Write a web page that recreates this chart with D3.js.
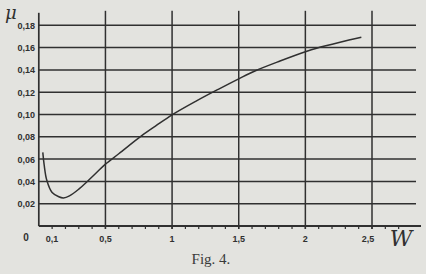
<!DOCTYPE html>
<html>
<head>
<meta charset="utf-8">
<script src="https://cdn.jsdelivr.net/npm/d3@7"></script>
<style>
  body { margin: 0; background: #e3e3df; }
  svg { display: block; }
</style>
</head>
<body>
<script>
// curve (mu against W)
var wValues  = [0.03, 0.04, 0.06, 0.10, 0.15, 0.185, 0.23, 0.30, 0.36, 0.43, 0.50, 0.60, 0.77, 0.88, 1.00, 1.18, 1.35, 1.50, 1.63, 1.81, 2.00, 2.085, 2.26, 2.42];
var muValues = [0.066, 0.055, 0.041, 0.030, 0.0262, 0.0252, 0.027, 0.033, 0.0395, 0.0475, 0.0555, 0.0648, 0.0808, 0.090, 0.0997, 0.112, 0.1228, 0.132, 0.1395, 0.148, 0.1563, 0.1595, 0.1648, 0.1692];

var yTicks = [0.02, 0.04, 0.06, 0.08, 0.10, 0.12, 0.14, 0.16, 0.18];
var yTickLabels = ["0,02", "0,04", "0,06", "0,08", "0,10", "0,12", "0,14", "0,16", "0,18"];
var xGrid = [0.5, 1, 1.5, 2, 2.5];
var xTickLabels = [[0.1, "0,1"], [0.5, "0,5"], [1, "1"], [1.5, "1,5"], [2, "2"], [2.5, "2,5"]];
var minorTicks = d3.range(1, 28).map(function(i) { return i / 10; });

var width = 426, height = 274;
var ink = "#303030";

var svg = d3.select("body").append("svg")
    .attr("width", width)
    .attr("height", height);

var x = d3.scaleLinear().domain([0, 2.5]).range([38.8, 372]);
var y = d3.scaleLinear().domain([0, 0.18]).range([226, 25.3]);

var xEnd = 419;      // right end of the ruled lines
var topY = y(0.193); // top end of the vertical lines

// horizontal rules
svg.selectAll(".hgrid")
    .data(yTicks)
  .enter().append("line")
    .attr("class", "hgrid")
    .attr("x1", x(0)).attr("x2", xEnd - 3)
    .attr("y1", function(d) { return y(d); })
    .attr("y2", function(d) { return y(d); })
    .attr("stroke", ink).attr("stroke-width", 1.5);

// vertical rules
svg.selectAll(".vgrid")
    .data(xGrid)
  .enter().append("line")
    .attr("class", "vgrid")
    .attr("x1", function(d) { return x(d); })
    .attr("x2", function(d) { return x(d); })
    .attr("y1", topY).attr("y2", y(0) + 3)
    .attr("stroke", ink).attr("stroke-width", 1.5);

// axes
svg.append("line")
    .attr("x1", x(0)).attr("x2", x(0))
    .attr("y1", topY + 2).attr("y2", y(0))
    .attr("stroke", ink).attr("stroke-width", 1.7);
svg.append("line")
    .attr("x1", x(0)).attr("x2", xEnd + 2)
    .attr("y1", y(0)).attr("y2", y(0))
    .attr("stroke", ink).attr("stroke-width", 1.9);

// small ticks on the W axis
svg.selectAll(".mtick")
    .data(minorTicks)
  .enter().append("line")
    .attr("class", "mtick")
    .attr("x1", function(d) { return x(d); })
    .attr("x2", function(d) { return x(d); })
    .attr("y1", y(0)).attr("y2", y(0) + 3)
    .attr("stroke", ink).attr("stroke-width", 1.2);

// y labels
svg.selectAll(".ylab")
    .data(yTicks)
  .enter().append("text")
    .attr("class", "ylab")
    .attr("x", 35)
    .attr("y", function(d) { return y(d) + 3.5; })
    .attr("text-anchor", "end")
    .style("font", "bold 9px 'Liberation Sans', sans-serif")
    .attr("fill", ink)
    .text(function(d, i) { return yTickLabels[i]; });

svg.append("text")
    .attr("x", 26).attr("y", 241)
    .attr("text-anchor", "middle")
    .style("font", "bold 10px 'Liberation Sans', sans-serif")
    .attr("fill", ink)
    .text("0");

// x labels
svg.selectAll(".xlab")
    .data(xTickLabels)
  .enter().append("text")
    .attr("class", "xlab")
    .attr("x", function(d) { return x(d[0]) - (d[0] == 2.5 ? 4 : 0); })
    .attr("y", 242)
    .attr("text-anchor", "middle")
    .style("font", "bold 9px 'Liberation Sans', sans-serif")
    .attr("fill", ink)
    .text(function(d) { return d[1]; });

// axis names
svg.append("text")
    .attr("x", 5).attr("y", 19)
    .attr("text-anchor", "start")
    .style("font", "italic 18px 'DejaVu Serif', serif")
    .attr("fill", ink)
    .text("μ");

svg.append("text")
    .attr("x", 401).attr("y", 246)
    .attr("text-anchor", "middle")
    .style("font", "italic 22px 'DejaVu Serif', serif")
    .attr("fill", ink)
    .text("W");

svg.append("text")
    .attr("x", 211).attr("y", 264)
    .attr("text-anchor", "middle")
    .style("font", "15px 'Liberation Serif', serif")
    .attr("fill", "#3a3a3a")
    .text("Fig. 4.");

// the curve
var points = wValues.map(function(w, i) { return [w, muValues[i]]; });
var line = d3.line()
    .x(function(d) { return x(d[0]); })
    .y(function(d) { return y(d[1]); })
    .curve(d3.curveCatmullRom);

svg.append("path")
    .datum(points)
    .attr("d", line)
    .attr("fill", "none")
    .attr("stroke", ink)
    .attr("stroke-width", 1.5);
</script>
</body>
</html>
